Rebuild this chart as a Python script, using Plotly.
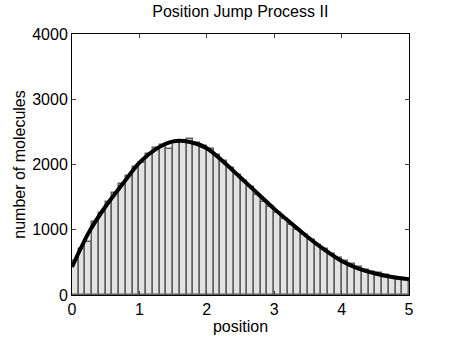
import plotly.graph_objects as go

bin_centers = [round(0.05 + 0.1 * i, 2) for i in range(50)]
counts = [520, 700, 820, 1120, 1250, 1420, 1560, 1700, 1830, 1960,
          2030, 2160, 2250, 2300, 2230, 2340, 2360, 2390, 2330, 2290,
          2240, 2150, 2060, 1950, 1840, 1740, 1660, 1530, 1430, 1350,
          1260, 1170, 1080, 1000, 920, 850, 770, 700, 630, 570,
          520, 470, 430, 390, 350, 330, 300, 280, 260, 240]

curve_x = [0, 0.25, 0.5, 0.75, 1, 1.25, 1.5, 1.75, 2, 2.25, 2.5, 2.75,
           3, 3.25, 3.5, 3.75, 4, 4.25, 4.5, 4.75, 5]
curve_y = [430, 960, 1360, 1700, 2030, 2240, 2355, 2345, 2250, 2040,
           1800, 1560, 1320, 1100, 885, 690, 520, 405, 330, 275, 240]

x_ticks = [0, 1, 2, 3, 4, 5]
y_ticks = [0, 1000, 2000, 3000, 4000]

fig = go.Figure()
fig.add_trace(go.Bar(x=bin_centers, y=counts, width=0.1,
                     marker=dict(color="#e2e2e2", line=dict(color="#606060", width=1.5)),
                     showlegend=False))
fig.add_trace(go.Scatter(x=curve_x, y=curve_y, mode="lines", line_shape="spline",
                         line=dict(color="black", width=4, smoothing=0.8), showlegend=False))

font = dict(family="Liberation Sans, Arial, sans-serif", color="black")
fig.update_layout(
    width=450, height=339,
    margin=dict(l=72, r=41, t=34, b=44, autoexpand=False),
    paper_bgcolor="white", plot_bgcolor="white",
    bargap=0,
    font=dict(size=16, **font),
    title=dict(text="Position Jump Process II", x=0.534, xanchor="center",
               y=0.965, yanchor="middle", font=dict(size=16, **font)),
)
fig.update_xaxes(range=[0, 5], tickvals=x_ticks, ticks="inside", ticklen=4,
                 showline=True, linecolor="black", linewidth=1, mirror="ticks",
                 showgrid=False, zeroline=False, tickfont=dict(size=16), automargin=False,
                 title=dict(text="position", font=dict(size=16), standoff=3))
fig.update_yaxes(range=[0, 4000], tickvals=y_ticks, ticks="inside", ticklen=4,
                 showline=True, linecolor="black", linewidth=1, mirror="ticks",
                 showgrid=False, zeroline=False, tickfont=dict(size=16), automargin=False,
                 title=dict(text="number of molecules", font=dict(size=16), standoff=2))

fig.write_html("out.html", config={"displayModeBar": False},
               post_script="document.body.style.margin='0px';")
